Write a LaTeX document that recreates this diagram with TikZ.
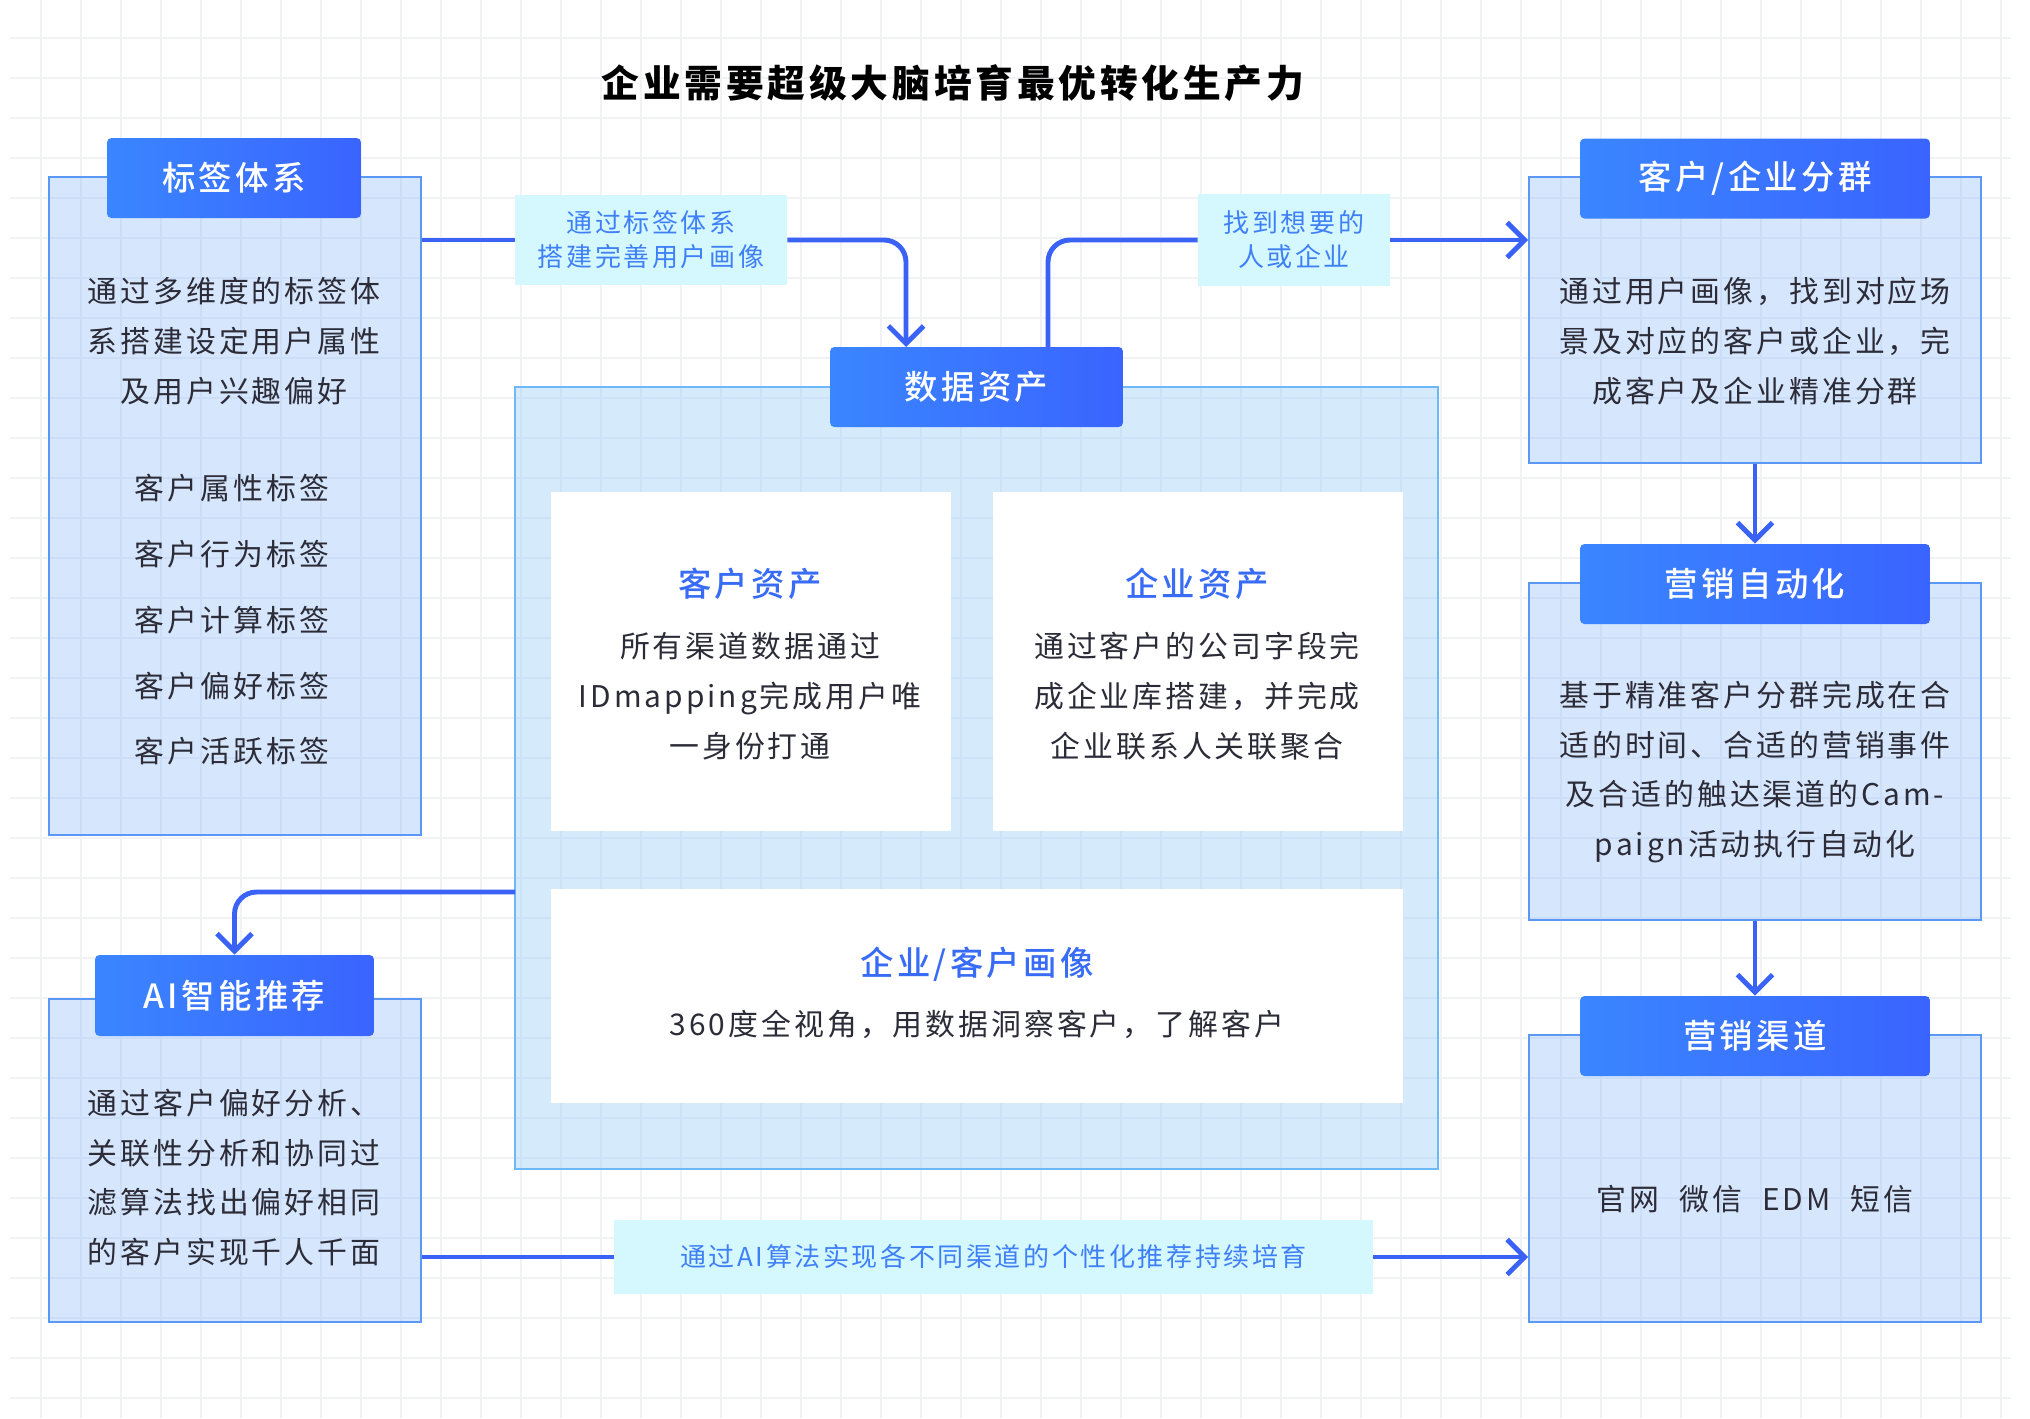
\documentclass[tikz,border=0pt]{standalone}
\usepackage{fontspec}
\setmainfont{Noto Sans CJK SC}[LetterSpace=10]
\newfontfamily\medfont{Noto Sans CJK SC Medium}[LetterSpace=10]
\usetikzlibrary{arrows.meta}
\definecolor{gridgray}{RGB}{240,242,246}
\definecolor{boxline}{RGB}{91,152,246}
\definecolor{boxfill}{RGB}{138,184,249}
\definecolor{dataline}{RGB}{108,184,248}
\definecolor{datafill}{RGB}{135,198,249}
\definecolor{tabl}{RGB}{58,134,255}
\definecolor{tabr}{RGB}{58,100,255}
\definecolor{hintfill}{RGB}{212,248,253}
\definecolor{hinttext}{RGB}{64,128,247}
\definecolor{headblue}{RGB}{56,108,246}
\definecolor{flowblue}{RGB}{58,98,245}
\definecolor{ink}{RGB}{44,44,56}

\begin{document}
\begin{tikzpicture}[x=0.02cm, y=-0.02cm,
    gridline/.style={draw=gridgray, line width=1pt},
    bodybox/.style={draw=boxline, line width=1pt, fill=boxfill, fill opacity=0.35, text opacity=1, inner sep=0pt},
    databox/.style={draw=dataline, line width=1pt, fill=datafill, fill opacity=0.35, text opacity=1, inner sep=0pt},
    card/.style={fill=white, inner sep=0pt},
    tab/.style={left color=tabl, right color=tabr, rounded corners=2.5pt, inner sep=0pt, minimum height=1.6cm, text=white, font=\medfont\fontsize{19}{23}\selectfont},
    hint/.style={fill=hintfill, text=hinttext, inner sep=0pt, align=center, font=\fontsize{14.8}{19.3}\selectfont},
    txt/.style={text=ink, align=center, inner sep=0pt, font=\fontsize{17}{28.3}\selectfont},
    head/.style={text=headblue, inner sep=0pt, font=\medfont\fontsize{19}{23}\selectfont},
    flow/.style={draw=flowblue, line width=2.8pt, rounded corners=0.44cm},
    arrowed/.style={-{Straight Barb[length=10pt,width=20pt]}}
]
    \fill[white] (0,0) rectangle (2030,1418);
    \useasboundingbox (0,0) rectangle (2030,1418);
    \foreach \gx in {41,81,...,2001} \draw[gridline] (\gx,0) -- (\gx,1418);
    \foreach \gy in {38,78,...,1398} \draw[gridline] (10,\gy) -- (2011,\gy);

    \node[font=\bfseries\fontsize{21.5}{26}\selectfont, inner sep=0pt] (title) at (953,83) {企业需要超级大脑培育最优转化生产力};

    \node[bodybox, minimum width=7.44cm, minimum height=13.16cm] (tagbody) at (235,506) {};
    \node[bodybox, minimum width=9.04cm, minimum height=5.72cm] (groupbody) at (1755,320) {};
    \node[bodybox, minimum width=9.04cm, minimum height=6.74cm] (autobody) at (1755,751.5) {};
    \node[bodybox, minimum width=9.04cm, minimum height=5.74cm] (chanbody) at (1755,1178.5) {};
    \node[bodybox, minimum width=7.44cm, minimum height=6.46cm] (aibody) at (235,1160.5) {};
    \node[databox, minimum width=18.46cm, minimum height=15.64cm] (databody) at (976.5,778) {};
    \node[card, minimum width=8cm, minimum height=6.78cm] (custcard) at (751,661.5) {};
    \node[card, minimum width=8.2cm, minimum height=6.78cm] (entcard) at (1198,661.5) {};
    \node[card, minimum width=17.04cm, minimum height=4.28cm] (portcard) at (977,996) {};

    \node[tab, minimum width=5.08cm] (tagtab) at (234,178) {标签体系};
    \node[tab, minimum width=7cm] (grouptab) at (1755,178.5) {客户/企业分群};
    \node[tab, minimum width=7cm] (autotab) at (1755,584) {营销自动化};
    \node[tab, minimum width=7cm] (chantab) at (1755,1036) {营销渠道};
    \node[tab, minimum width=5.58cm, minimum height=1.62cm] (aitab) at (234.5,995.5) {AI智能推荐};
    \node[tab, minimum width=5.86cm] (datatab) at (976.5,387) {数据资产};

    \node[hint, minimum width=5.44cm, minimum height=1.8cm] (hintA) at (651,240) {通过标签体系\\搭建完善用户画像};
    \node[hint, minimum width=3.84cm, minimum height=1.84cm] (hintB) at (1294,240) {找到想要的\\人或企业};
    \node[hint, minimum width=15.18cm, minimum height=1.48cm] (hintC) at (993.5,1257) {通过AI算法实现各不同渠道的个性化推荐持续培育};

    \node[txt] (tagtxt) at (234,341) {通过多维度的标签体\\系搭建设定用户属性\\及用户兴趣偏好};
    \node[txt, font=\fontsize{17}{37.4}\selectfont] (taglist) at (232,620) {客户属性标签\\客户行为标签\\客户计算标签\\客户偏好标签\\客户活跃标签};
    \node[txt] (grouptxt) at (1755,341) {通过用户画像，找到对应场\\景及对应的客户或企业，完\\成客户及企业精准分群};
    \node[txt] (autotxt) at (1755,772) {基于精准客户分群完成在合\\适的时间、合适的营销事件\\及合适的触达渠道的Cam-\\paign活动执行自动化};
    \node[txt] (chantxt) at (1755,1199) {官网\hspace{0.4cm}微信\hspace{0.4cm}EDM\hspace{0.4cm}短信};
    \node[txt] (aitxt) at (234,1177.5) {通过客户偏好分析、\\关联性分析和协同过\\滤算法找出偏好相同\\的客户实现千人千面};
    \node[head] (custhead) at (750,584) {客户资产};
    \node[txt] (custtxt) at (750,696) {所有渠道数据通过\\IDmapping完成用户唯\\一身份打通};
    \node[head] (enthead) at (1197,584) {企业资产};
    \node[txt] (enttxt) at (1197,696) {通过客户的公司字段完\\成企业库搭建，并完成\\企业联系人关联聚合};
    \node[head] (porthead) at (977,964) {企业/客户画像};
    \node[txt] (porttxt) at (977,1024) {360度全视角，用数据洞察客户，了解客户};

    \coordinate (inD) at (906,347);
    \coordinate (outD) at (1048,347);
    \coordinate (outL) at (515,892);
    \draw[flow] (tagbody.east |- hintA) -- (hintA);
    \draw[flow, arrowed] (hintA) -| (inD);
    \draw[flow] (outD) |- (hintB);
    \draw[flow, arrowed] (hintB) -- (groupbody.west |- hintB);
    \draw[flow, arrowed] (groupbody.south) -- (autotab.north);
    \draw[flow, arrowed] (autobody.south) -- (chantab.north);
    \draw[flow, arrowed] (outL) -| (aitab.north);
    \draw[flow] (aibody.east |- hintC) -- (hintC);
    \draw[flow, arrowed] (hintC) -- (chanbody.west |- hintC);
\end{tikzpicture}
\end{document}
